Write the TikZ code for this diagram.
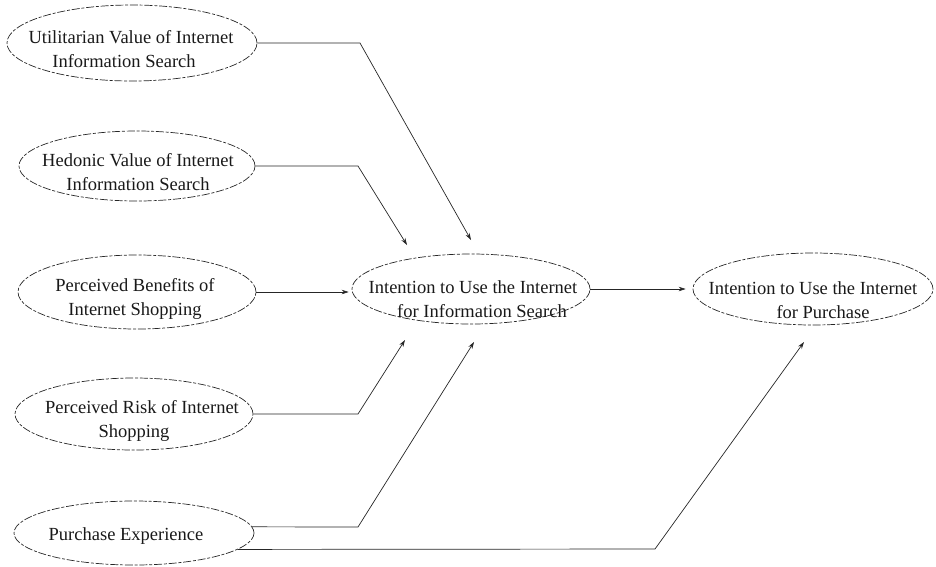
\documentclass[tikz,border=0pt]{standalone}
\usepackage{fontspec}
\setmainfont{Liberation Serif}
\usetikzlibrary{shapes.geometric,arrows.meta}
\begin{document}
\begin{tikzpicture}[x=1pt,y=-1pt,
  oval/.style={draw=black!85, ellipse, inner sep=0pt, line width=0.7pt,
               dash pattern=on 8pt off 1.8pt on 3pt off 1.8pt},
  lbl/.style={align=center, font=\fontsize{18.5}{24}\selectfont, inner sep=0pt, text=black!90},
  link/.style={draw=black!85, line width=0.7pt, -{Stealth[length=7pt,width=4.5pt]}}]
\useasboundingbox (0,0) rectangle (936,566);

% factor ellipses
\node[oval, minimum width=250pt, minimum height=76pt] (u) at (132,43) {};
\node[lbl] (u-txt) at (131,49) {Utilitarian Value of Internet\\Information Search\hspace*{14pt}};
\node[oval, minimum width=236pt, minimum height=70pt] (h) at (137,166) {};
\node[lbl] (h-txt) at (138,172) {Hedonic Value of Internet\\Information Search};
\node[oval, minimum width=238pt, minimum height=74pt] (b) at (137,292) {};
\node[lbl] (b-txt) at (135,299) {Perceived Benefits of\\Internet Shopping};
\node[oval, minimum width=238pt, minimum height=72pt] (r) at (134,414) {};
\node[lbl] (r-txt) at (134,421) {\hspace*{16pt}Perceived Risk of Internet\\Shopping};
\node[oval, minimum width=240pt, minimum height=64pt] (p) at (134,533) {};
\node[lbl] (p-txt) at (126,536) {Purchase Experience};

% intention ellipses
\node[oval, minimum width=238pt, minimum height=70pt] (m) at (471,289) {};
\node[lbl] (m-txt) at (473,299) {Intention to Use the Internet\\\hspace*{18pt}for Information Search};
\node[oval, minimum width=240pt, minimum height=72pt] (t) at (813,289) {};
\node[lbl] (t-txt) at (813,300) {Intention to Use the Internet\\\hspace*{20pt}for Purchase};

% bends and arrow ends
\coordinate (ub) at (360,43);  \coordinate (ut) at (471,240);
\coordinate (hb) at (358,166); \coordinate (ht) at (407,245);
\coordinate (rb) at (358,414); \coordinate (rt) at (405,340);
\coordinate (pb1) at (358,527); \coordinate (pt1) at (474,342);
\coordinate (pb2) at (655,549); \coordinate (pt2) at (804,342);

% connectors
\draw[link] (u.east) -- (ub) -- (ut);
\draw[link] (h.east) -- (hb) -- (ht);
\draw[link, shorten >=3pt] (b.east) -- (b.east -| m.west);
\draw[link] (r.east) -- (rb) -- (rt);
\draw[link] (p.3) -- (pb1) -- (pt1);
\draw[link] (p.-9) -- (pb2) -- (pt2);
\draw[link, shorten >=7pt] (m.east) -- (m.east -| t.west);
\end{tikzpicture}
\end{document}
